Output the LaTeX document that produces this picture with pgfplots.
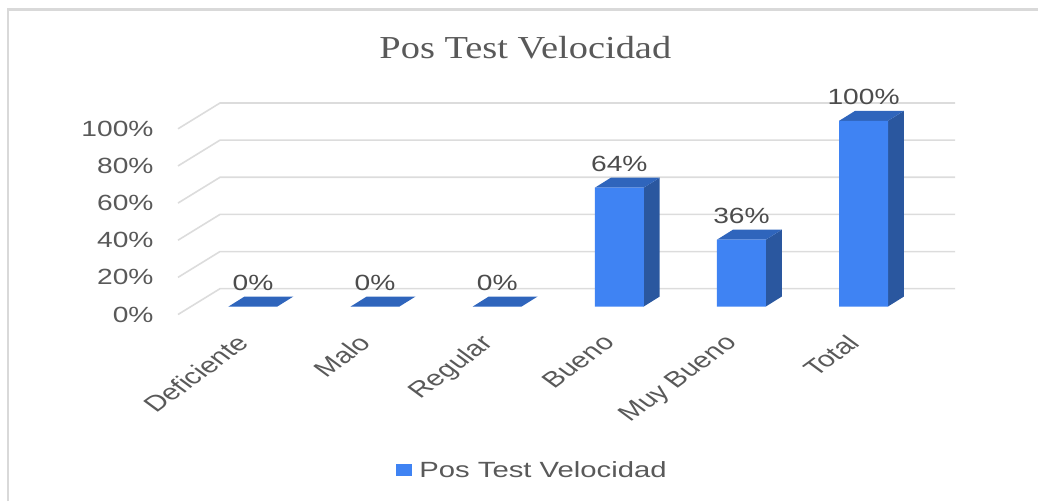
\documentclass[border=0pt]{standalone}
\usepackage{fontspec}
\usepackage{pgfplots}
\pgfplotsset{compat=1.18}
\setmainfont[FakeStretch=1.28]{Liberation Sans}
\newfontfamily\plainfont{Liberation Sans}
\newfontfamily\legendfont[FakeStretch=1.33]{Liberation Sans}
\newfontfamily\titlefont[FakeStretch=1.2]{Liberation Serif}
\definecolor{front}{HTML}{3F83F3}
\definecolor{sideface}{HTML}{2A579F}
\definecolor{topface}{HTML}{2F65BC}
\definecolor{gridgray}{HTML}{DCDCDC}
\definecolor{framegray}{HTML}{D9D9D9}
\definecolor{labelgray}{HTML}{595959}
\begin{document}
\begin{tikzpicture}[x=1pt,y=1pt]
\path[use as bounding box] (0,0) rectangle (1038,501);
\draw[framegray,line width=2.5pt] (8,0) -- (8,491.5) -- (1038,491.5);
\begin{axis}[
    at={(178pt,186.5pt)},
    anchor=south west,
    scale only axis,
    width=777pt,
    height=211.5pt,
    xmin=-0.614, xmax=5.749,
    ymin=-4.3, ymax=109.6,
    clip=false,
    axis line style={draw=none},
    major tick length=0pt,
    tick style={draw=none},
    xtick={0,1,2,3,4,5},
    xticklabels={Deficiente,Malo,Regular,Bueno,Muy Bueno,Total},
    ytick={0,20,40,60,80,100},
    yticklabels={0\%,20\%,40\%,60\%,80\%,100\%},
    tick label style={font=\fontsize{22}{26}\selectfont,text=labelgray},
    xticklabel style={font=\plainfont\fontsize{22}{26}\selectfont,
        xshift=-18pt,yshift=-14pt,xscale=1.36,rotate=45,anchor=north east},
    yticklabel style={anchor=east,xshift=-21pt,yshift=-8pt},
    title={\titlefont\fontsize{32}{38}\selectfont Pos Test Velocidad},
    title style={at={(0.447,1.265)},anchor=center,text=labelgray,yshift=-7pt},
    legend style={at={(0.455,-0.735)},anchor=center,draw=none,fill=none,
        font=\legendfont\fontsize{22}{26}\selectfont,text=labelgray,
        nodes={inner xsep=0pt},
        /tikz/every even column/.append style={column sep=0pt}},
    legend image code/.code={\fill[front] (0pt,-6pt) rectangle (15.5pt,6pt); \path (23pt,8pt);},
    /pgf/number format/assume math mode=true,
]
% gridlines: side wall, then back wall
\pgfplotsinvokeforeach{0,20,40,60,80,100}{
    \addplot[gridgray,line width=1.6pt,forget plot] coordinates {(-0.614,#1-4.3) (-0.27,#1+9.6) (5.749,#1+9.6)};
}
% side faces
\addplot[fill=sideface,draw=none,forget plot] coordinates {(3.2,0) (3.331,5.38) (3.331,69.38) (3.2,64)} -- cycle;
\addplot[fill=sideface,draw=none,forget plot] coordinates {(4.2,0) (4.331,5.38) (4.331,41.38) (4.2,36)} -- cycle;
\addplot[fill=sideface,draw=none,forget plot] coordinates {(5.2,0) (5.331,5.38) (5.331,105.38) (5.2,100)} -- cycle;
% top faces
\addplot[fill=topface,draw=none,forget plot] coordinates {(-0.2,0) (-0.069,5.38) (0.331,5.38) (0.2,0)} -- cycle;
\addplot[fill=topface,draw=none,forget plot] coordinates {(0.8,0) (0.931,5.38) (1.331,5.38) (1.2,0)} -- cycle;
\addplot[fill=topface,draw=none,forget plot] coordinates {(1.8,0) (1.931,5.38) (2.331,5.38) (2.2,0)} -- cycle;
\addplot[fill=topface,draw=none,forget plot] coordinates {(2.8,64) (2.931,69.38) (3.331,69.38) (3.2,64)} -- cycle;
\addplot[fill=topface,draw=none,forget plot] coordinates {(3.8,36) (3.931,41.38) (4.331,41.38) (4.2,36)} -- cycle;
\addplot[fill=topface,draw=none,forget plot] coordinates {(4.8,100) (4.931,105.38) (5.331,105.38) (5.2,100)} -- cycle;
% front faces
\addplot[ybar,bar width=49pt,bar shift=0pt,fill=front,draw=none,
    nodes near coords={\pgfmathprintnumber{\pgfplotspointmeta}\%},
    every node near coord/.style={font=\fontsize{22}{26}\selectfont,text=labelgray!85!black,anchor=south,yshift=16pt,inner sep=0pt}]
    coordinates {(0,0) (1,0) (2,0) (3,64) (4,36) (5,100)};
\addlegendentry{Pos Test Velocidad}
\end{axis}
\end{tikzpicture}
\end{document}
